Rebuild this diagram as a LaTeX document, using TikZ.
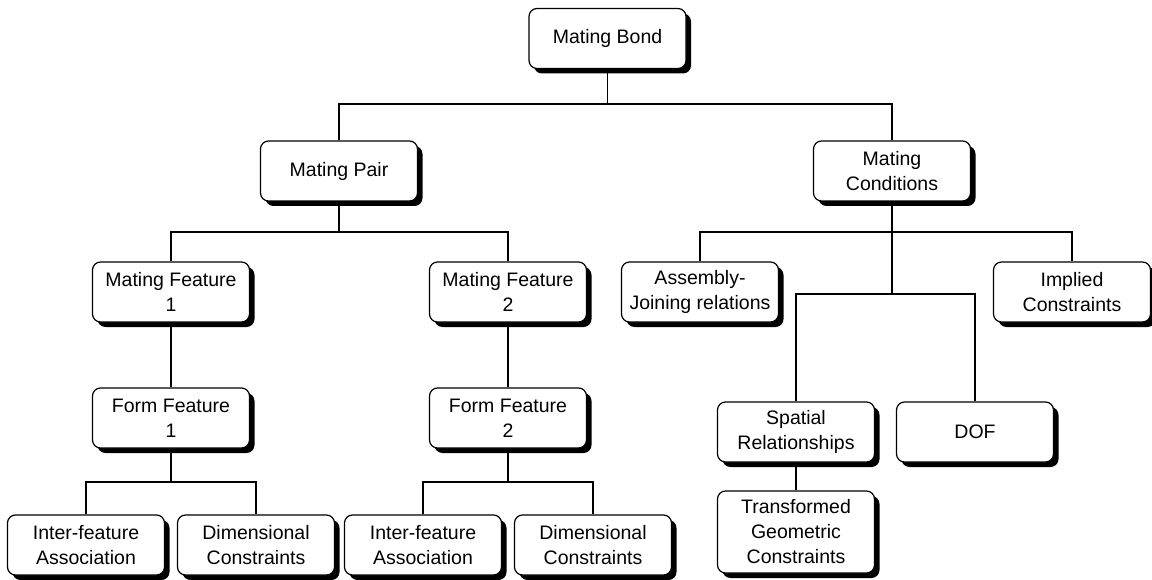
\documentclass[tikz,border=0pt]{standalone}
\usepackage{fontspec}
\setmainfont{Liberation Sans}
\usetikzlibrary{shadows}
\begin{document}
\begin{tikzpicture}[x=1pt,y=-1pt,
  box/.style={draw=black, line width=1.2pt, fill=white, rounded corners=8pt,
    minimum width=157pt, minimum height=60pt, align=center, inner sep=2pt,
    font=\fontsize{19.5}{25}\selectfont,
    drop shadow={shadow xshift=5pt, shadow yshift=-5pt, fill=black, opacity=1}},
  link/.style={draw=black, line width=1.2pt}]
\useasboundingbox (0,0) rectangle (1152,580);

% tree nodes
\node[box] (bond) at (607.5,38.5) {Mating Bond};
\node[box] (pair) at (339,171) {Mating Pair};
\node[box] (cond) at (892,171) {Mating\\Conditions};
\node[box] (mf1) at (171,292) {Mating Feature\\1};
\node[box] (mf2) at (508,292) {Mating Feature\\2};
\node[box] (asm) at (700,292) {Assembly-\\Joining relations};
\node[box] (impl) at (1072,292) {Implied\\Constraints};
\node[box] (ff1) at (171,418) {Form Feature\\1};
\node[box] (ff2) at (508,418) {Form Feature\\2};
\node[box] (spat) at (796,432) {Spatial\\Relationships};
\node[box] (dof) at (975,432) {DOF};
\node[box] (ia1) at (86,545) {Inter-feature\\Association};
\node[box] (dc1) at (256,545) {Dimensional\\Constraints};
\node[box] (ia2) at (423,545) {Inter-feature\\Association};
\node[box] (dc2) at (593,545) {Dimensional\\Constraints};
\node[box, minimum height=82pt] (tgc) at (796,532) {Transformed\\Geometric\\Constraints};

% branch points
\coordinate (j1) at (607.5,104);
\coordinate (j2) at (892,232);
\coordinate (j3) at (892,294);
\coordinate (j4) at (171,482);
\coordinate (j5) at (508,482);

% connectors
\draw[link] (bond.south) -- (j1);
\draw[link] (pair.north) |- (j1) -| (cond.north);
\draw[link] (cond.south) -- (j2) -- (j3);
\draw[link] (asm.north) |- (j2) -| (impl.north);
\draw[link] (spat.north) |- (j3) -| (dof.north);
\draw[link] (pair.south) |- (mf1.north |- 0,232) -- (mf1.north);
\draw[link] (pair.south |- 0,232) -| (mf2.north);
\draw[link] (mf1.south) -- (ff1.north);
\draw[link] (mf2.south) -- (ff2.north);
\draw[link] (ff1.south) -- (j4);
\draw[link] (ia1.north) |- (j4) -| (dc1.north);
\draw[link] (ff2.south) -- (j5);
\draw[link] (ia2.north) |- (j5) -| (dc2.north);
\draw[link] (spat.south) -- (tgc.north);
\end{tikzpicture}
\end{document}
